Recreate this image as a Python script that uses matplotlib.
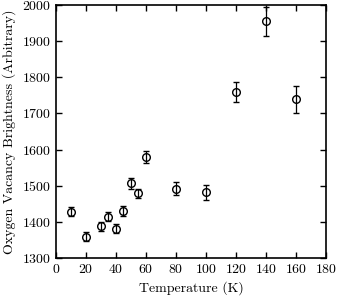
import numpy as np
import matplotlib
matplotlib.use("Agg")
import matplotlib.pyplot as plt

plt.rcParams['font.family'] = 'serif'
plt.rcParams['font.serif'] = ['cmr10', 'DejaVu Serif']
plt.rcParams['mathtext.fontset'] = 'cm'
plt.rcParams['axes.formatter.use_mathtext'] = True

temp = [10, 20, 30, 35, 40, 45, 50, 55, 60, 80, 100, 120, 140, 160]
bright = [1428, 1359, 1388, 1415, 1381, 1430, 1507, 1479, 1579, 1492, 1482, 1759, 1955, 1739]
err = [12, 12, 12, 12, 12, 13, 15, 13, 17, 18, 20, 28, 40, 37]

fig = plt.figure(figsize=(3.39, 2.98), dpi=100)
ax = fig.add_axes([0.165, 0.134, 0.797, 0.849])

ax.errorbar(temp, bright, yerr=err, fmt='o', mfc='none', mec='black', ms=5.5, mew=1.0,
            ecolor='black', elinewidth=0.9, capsize=2.5, capthick=0.9, color='black')

ax.set_xlim(0, 180)
ax.set_ylim(1300, 2000)
ax.set_xticks(np.arange(0, 181, 20))
ax.set_yticks(np.arange(1300, 2001, 100))
ax.tick_params(direction='in', top=True, right=True, length=4, width=1, labelsize=10)
for s in ax.spines.values():
    s.set_linewidth(1.2)
ax.set_xlabel('Temperature (K)', fontsize=10)
ax.set_ylabel('Oxygen Vacancy Brightness (Arbitrary)', fontsize=10)

fig.savefig('out.png', dpi=100)
